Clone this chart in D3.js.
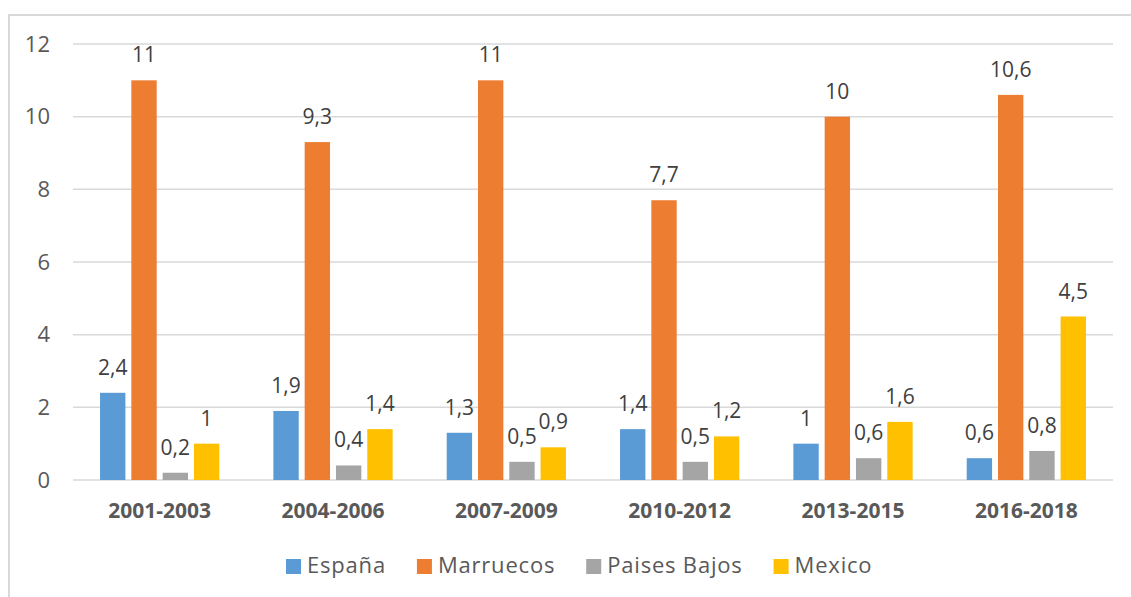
<!DOCTYPE html>
<html>
<head>
<meta charset="utf-8">
<script src="https://cdn.jsdelivr.net/npm/d3@7"></script>
<style>
  html, body { margin: 0; padding: 0; background: #fff; }
  svg { display: block; }
  text { font-family: "Open Sans", "Noto Sans", sans-serif; }
</style>
</head>
<body>
<svg id="chart" width="1131" height="597"></svg>
<script>
const categories = ["2001-2003", "2004-2006", "2007-2009", "2010-2012", "2013-2015", "2016-2018"];
const seriesNames = ["España", "Marruecos", "Paises Bajos", "Mexico"];
const espana     = [2.4, 1.9, 1.3, 1.4, 1.0, 0.6];
const marruecos  = [11, 9.3, 11, 7.7, 10, 10.6];
const paisesBajos = [0.2, 0.4, 0.5, 0.5, 0.6, 0.8];
const mexico     = [1.0, 1.4, 0.9, 1.2, 1.6, 4.5];
const yTicks = [0, 2, 4, 6, 8, 10, 12];
const colors = ["#5b9bd5", "#ed7d31", "#a5a5a5", "#ffc000"];

const seriesValues = [espana, marruecos, paisesBajos, mexico];
const fmt = v => String(v).replace(".", ",");

const svg = d3.select("#chart");
const W = 1131, H = 597;
const plot = { left: 73, right: 1113, top: 44, bottom: 480 };

svg.append("rect")
  .attr("x", 9).attr("y", 15)
  .attr("width", W + 20).attr("height", H + 20)
  .attr("fill", "none").attr("stroke", "#d9d9d9").attr("stroke-width", 2);

const y = d3.scaleLinear().domain([0, 12]).range([plot.bottom, plot.top]);
const x0 = d3.scaleBand().domain(categories).range([plot.left, plot.right])
  .paddingInner(0.312).paddingOuter(0.156);
const x1 = d3.scaleBand().domain(seriesNames).range([0, x0.bandwidth()])
  .paddingInner(0.19).paddingOuter(0);

svg.append("g").selectAll("line").data(yTicks).join("line")
  .attr("x1", plot.left).attr("x2", plot.right)
  .attr("y1", d => y(d)).attr("y2", d => y(d))
  .attr("stroke", "#d9d9d9").attr("stroke-width", 1.5);

const yAxis = d3.axisLeft(y).tickValues(yTicks).tickSize(0).tickPadding(0)
  .tickFormat(d => d);
const yg = svg.append("g").attr("transform", `translate(50,0)`).call(yAxis);
yg.select(".domain").remove();
yg.selectAll("text").attr("fill", "#595959").style("font-size", "22px")
  .style("font-family", "'Open Sans', sans-serif");

const xAxis = d3.axisBottom(x0).tickSize(0).tickPadding(0);
const xg = svg.append("g").attr("transform", `translate(0,${plot.bottom})`).call(xAxis);
xg.select(".domain").remove();
xg.selectAll("text").attr("fill", "#595959").attr("dy", null).attr("y", 38)
  .style("font-size", "21px").style("font-weight", "bold")
  .style("font-family", "'Open Sans', sans-serif");

const data = [];
categories.forEach((c, i) => {
  seriesNames.forEach((s, j) => {
    data.push({ cat: c, series: s, value: seriesValues[j][i], color: colors[j] });
  });
});

const bars = svg.append("g");
bars.selectAll("rect").data(data).join("rect")
  .attr("x", d => x0(d.cat) + x1(d.series))
  .attr("y", d => y(d.value))
  .attr("width", x1.bandwidth())
  .attr("height", d => y(0) - y(d.value))
  .attr("fill", d => d.color);

bars.selectAll("text").data(data).join("text")
  .attr("x", d => x0(d.cat) + x1(d.series) + x1.bandwidth() / 2)
  .attr("y", d => y(d.value) - 18)
  .attr("text-anchor", "middle")
  .attr("fill", "#404040")
  .style("font-size", "21px")
  .text(d => fmt(d.value));

const legend = svg.append("g");
let lx = 286;
seriesNames.forEach((s, j) => {
  legend.append("rect").attr("x", lx).attr("y", 559).attr("width", 15).attr("height", 15)
    .attr("fill", colors[j]);
  const t = legend.append("text").attr("x", lx + 21).attr("y", 573)
    .attr("fill", "#595959").style("font-size", "22px").style("letter-spacing", "0.8px").text(s);
  const w = t.node().getComputedTextLength();
  lx = lx + 21 + w + 31;
});
</script>
</body>
</html>
